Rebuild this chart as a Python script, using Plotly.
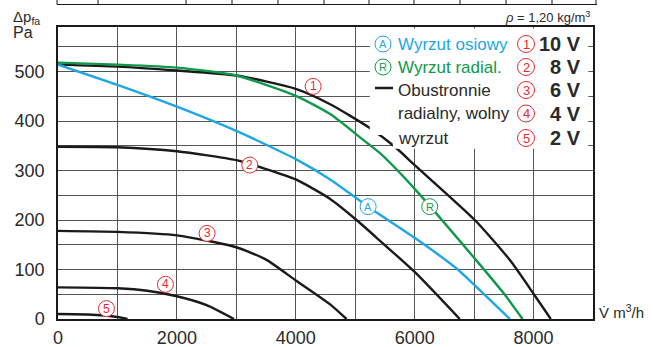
import plotly.graph_objects as go

# ---------------- data ----------------
c10_x = [0, 1000, 2000, 3000, 4000, 4578, 5245, 5667, 6000, 7012, 7602, 8011, 8290]
c10_y = [514, 510, 502, 492, 465, 434, 386, 348, 311, 200, 119, 49, 0]
c8_x = [0, 1000, 2000, 3000, 3500, 4000, 4573, 5022, 5417, 6000, 6758]
c8_y = [348, 347, 339, 321, 303, 282, 243, 200, 158, 95, 0]
c6_x = [0, 1000, 2000, 3000, 3500, 4000, 4573, 4853]
c6_y = [178, 176, 169, 145, 120, 78, 30, 0]
c4_x = [0, 1000, 1500, 2000, 2500, 2960]
c4_y = [64, 62, 57, 46, 28, 0]
c2_x = [0, 500, 1000, 1170]
c2_y = [10, 9, 4, 0]
axial_x = [0, 1000, 2000, 3000, 4000, 4578, 5217, 6000, 6705, 7012, 7602]
axial_y = [514, 473, 429, 380, 323, 282, 227, 164, 102, 68, 0]
radial_x = [0, 1000, 2000, 3000, 4000, 4578, 5133, 5417, 6000, 7012, 7517, 7815]
radial_y = [518, 514, 508, 492, 451, 414, 362, 335, 263, 122, 49, 0]

volt_labels = ["10 V", "8 V", "6 V", "4 V", "2 V"]
num_text = ["1", "2", "3", "4", "5"]
x_labels = {0: "0", 2000: "2000", 4000: "4000", 6000: "6000", 8000: "8000"}
y_labels = {0: "0", 100: "100", 200: "200", 300: "300", 400: "400", 500: "500"}

# label anchor points in data space
num_lbl_x = [4292, 3226, 2508, 1807, 815]
num_lbl_y = [470, 311, 173, 70, 21]
a_lbl = (5217, 227)
r_lbl = (6253, 227)

BLACK = "#1a1a1a"
BLUE = "#1ea7e4"
GREEN = "#10994a"
RED = "#e52a30"
TXT = "#2a2a2a"
COND = "Liberation Sans Narrow, Arial Narrow, Liberation Sans, Arial"
SANS = "Liberation Sans, Arial"

L, R, T, B = 58, 60, 27, 28
W, H = 653, 347
PW, PH = W - L - R, H - T - B

def px2x(px):
    return (px - L) / PW

def py2y(py):
    return (H - B - py) / PH

fig = go.Figure()
for xs, ys in [(c10_x, c10_y), (c8_x, c8_y), (c6_x, c6_y), (c4_x, c4_y), (c2_x, c2_y)]:
    fig.add_trace(go.Scatter(x=xs, y=ys, mode="lines", line=dict(color=BLACK, width=2.4, shape="spline", smoothing=0.6), hoverinfo="skip"))
fig.add_trace(go.Scatter(x=axial_x, y=axial_y, mode="lines", line=dict(color=BLUE, width=2.4, shape="spline", smoothing=0.6)))
fig.add_trace(go.Scatter(x=radial_x, y=radial_y, mode="lines", line=dict(color=GREEN, width=2.4, shape="spline", smoothing=0.6)))

ann = []
shapes = []

def circ_label(x, y, txt, color, ref, diam, fsize):
    r = diam / 2
    xr, yr = ("x", "y") if ref == "data" else ("paper", "paper")
    shapes.append(dict(type="circle", xref=xr, yref=yr, xsizemode="pixel", ysizemode="pixel",
                       xanchor=x, yanchor=y, x0=-r, x1=r, y0=-r, y1=r,
                       fillcolor="white", line=dict(color=color, width=1), layer="above"))
    ann.append(dict(x=x, y=y, xref=xr, yref=yr, text=txt, showarrow=False, yshift=0,
                    xanchor="center", yanchor="middle", font=dict(family=SANS, size=fsize, color=color)))

# white legend panel covering grid and curves
shapes.append(dict(type="path", xref="x", yref="y", layer="above",
                   path="M 5245 587 L 5245 372 L 5633 372 L 5633 344 L 8920 344 L 8920 587 Z",
                   fillcolor="white", line=dict(width=0)))

for i in range(5):
    circ_label(num_lbl_x[i], num_lbl_y[i], num_text[i], RED, "data", 16, 12)
circ_label(a_lbl[0], a_lbl[1], "A", BLUE, "data", 16, 11)
circ_label(r_lbl[0], r_lbl[1], "R", GREEN, "data", 16, 11)

rows = [44, 67, 90, 113.5, 138]
circ_label(px2x(383), py2y(rows[0]), "A", BLUE, "paper", 16, 11)
circ_label(px2x(383), py2y(rows[1]), "R", GREEN, "paper", 16, 11)
leg_txt = [("Wyrzut osiowy", BLUE), ("Wyrzut radial.", GREEN), ("Obustronnie", TXT), ("radialny, wolny", TXT), ("wyrzut", TXT)]
for i, (t, c) in enumerate(leg_txt):
    ann.append(dict(x=px2x(396), y=py2y(rows[i]), xref="paper", yref="paper", text=t, showarrow=False,
                    xanchor="left", yanchor="middle", font=dict(family=COND, size=17, color=c)))
for i in range(5):
    circ_label(px2x(526), py2y(rows[i]), num_text[i], RED, "paper", 17, 13)
    ann.append(dict(x=px2x(583), y=py2y(rows[i]), xref="paper", yref="paper", text="<b>" + volt_labels[i] + "</b>", showarrow=False,
                    xanchor="right", yanchor="middle", font=dict(family=SANS, size=20, color=TXT)))

# axis titles and notes
ann.append(dict(x=px2x(11), y=py2y(18), xref="paper", yref="paper", text="Δp<sub>fa</sub>", showarrow=False,
                xanchor="left", yanchor="middle", font=dict(family=SANS, size=15, color=TXT)))
ann.append(dict(x=px2x(11), y=py2y(33), xref="paper", yref="paper", text="Pa", showarrow=False,
                xanchor="left", yanchor="middle", font=dict(family=SANS, size=16, color=TXT)))
ann.append(dict(x=px2x(597), y=py2y(311), xref="paper", yref="paper", text="V̇ m<sup>3</sup>/h", showarrow=False,
                xanchor="left", yanchor="middle", font=dict(family=SANS, size=15, color=TXT)))
ann.append(dict(x=px2x(592), y=py2y(17), xref="paper", yref="paper", text="<i>ρ</i> = 1,20 kg/m<sup>3</sup>", showarrow=False,
                xanchor="right", yanchor="middle", font=dict(family=SANS, size=13, color=TXT)))
ann.append(dict(x=px2x(142), y=py2y(5), xref="paper", yref="paper", text="Na tłoczeniu", showarrow=False,
                xanchor="center", yanchor="bottom", font=dict(family=SANS, size=15, color=TXT)))

shapes.append(dict(type="line", xref="paper", yref="paper", x0=px2x(375), x1=px2x(393), y0=py2y(88), y1=py2y(88),
                   line=dict(color=BLACK, width=2.5), layer="above"))
# cut-off table above chart
shapes.append(dict(type="line", xref="paper", yref="paper", x0=px2x(57), x1=px2x(597), y0=py2y(4.5), y1=py2y(4.5),
                   line=dict(color=BLACK, width=1)))
for vx in [57, 98, 186, 232, 278, 324, 369, 414, 460, 506, 552, 596]:
    shapes.append(dict(type="line", xref="paper", yref="paper", x0=px2x(vx), x1=px2x(vx), y0=py2y(-2), y1=py2y(4.5),
                       line=dict(color=BLACK, width=1)))

xt = list(range(0, 9001, 1000))
yt = list(range(0, 551, 50))
fig.update_layout(
    width=W, height=H, margin=dict(l=L, r=R, t=T, b=B, autoexpand=False),
    paper_bgcolor="white", plot_bgcolor="white", showlegend=False,
    annotations=ann, shapes=shapes,
    font=dict(family=SANS, color=TXT),
)
fig.update_xaxes(range=[0, 9000], tickmode="array", tickvals=xt, ticktext=[x_labels.get(v, "") for v in xt],
                 showgrid=True, gridcolor="#555555", gridwidth=1, automargin=False,
                 showline=True, linecolor=BLACK, linewidth=1.5, mirror=True,
                 ticks="outside", ticklen=2, tickcolor="rgba(0,0,0,0)",
                 tickfont=dict(size=18, color=TXT), zeroline=False)
fig.update_yaxes(range=[0, 590], tickmode="array", tickvals=yt, ticktext=[y_labels.get(v, "") for v in yt],
                 showgrid=True, gridcolor="#555555", gridwidth=1, automargin=False,
                 showline=True, linecolor=BLACK, linewidth=1.5, mirror=True,
                 ticks="outside", ticklen=8, tickcolor="rgba(0,0,0,0)",
                 tickfont=dict(size=18, color=TXT), zeroline=False)

fig.write_html("out.html")
